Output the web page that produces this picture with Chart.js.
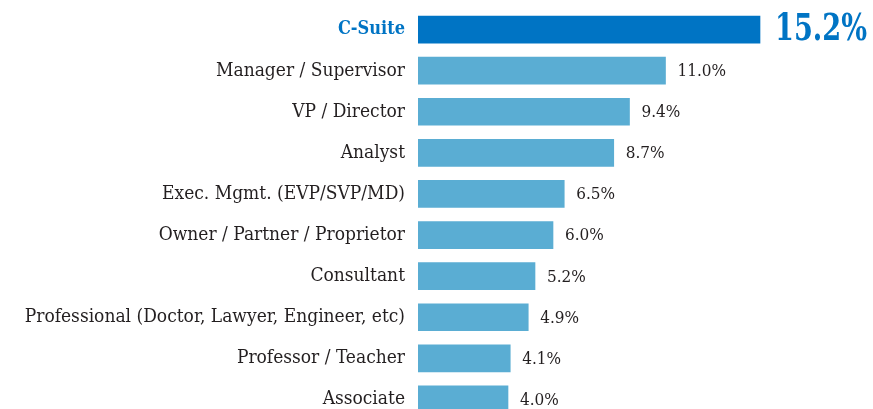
<!DOCTYPE html>
<html>
<head>
<meta charset="utf-8">
<script src="https://cdn.jsdelivr.net/npm/chart.js@4"></script>
<style>
  html, body { margin: 0; padding: 0; background: #fff; overflow: hidden; }
  #wrap { width: 873px; height: 409px; overflow: hidden; }
</style>
</head>
<body>
<div id="wrap"><canvas id="rolesChart" width="873" height="420"></canvas></div>
<script>
// Rollen / Titel und Anteile
const categories = [
  'C-Suite', 'Manager / Supervisor', 'VP / Director', 'Analyst',
  'Exec. Mgmt. (EVP/SVP/MD)', 'Owner / Partner / Proprietor', 'Consultant',
  'Professional (Doctor, Lawyer, Engineer, etc)', 'Professor / Teacher', 'Associate'
];
const shares = [15.2, 11.0, 9.4, 8.7, 6.5, 6.0, 5.2, 4.9, 4.1, 4.0];

const HIGHLIGHT = '#0074c4';
const NORMAL = '#5aadd3';
const TEXT = '#231f20';
const FONT = '"DejaVu Serif Condensed", "DejaVu Serif", serif';

// Werte rechts neben den Balken schreiben
const valueLabels = {
  id: 'valueLabels',
  afterDatasetsDraw(chart) {
    const ctx = chart.ctx;
    const meta = chart.getDatasetMeta(0);
    ctx.save();
    ctx.textBaseline = 'middle';
    ctx.textAlign = 'left';
    meta.data.forEach((bar, i) => {
      const txt = shares[i].toFixed(1) + '%';
      if (i === 0) {
        ctx.font = 'bold 37px ' + FONT;
        ctx.fillStyle = HIGHLIGHT;
        const w = ctx.measureText(txt).width;
        const sx = Math.min(1, 92 / w);
        ctx.save();
        ctx.translate(bar.x + 15, bar.y + 1);
        ctx.scale(sx, 1);
        ctx.fillText(txt, 0, 0);
        ctx.restore();
      } else {
        ctx.font = '17px ' + FONT;
        ctx.fillStyle = TEXT;
        ctx.fillText(txt, bar.x + 12, bar.y + 1);
      }
    });
    ctx.restore();
  }
};

new Chart(document.getElementById('rolesChart').getContext('2d'), {
  type: 'bar',
  data: {
    labels: categories,
    datasets: [{
      data: shares,
      backgroundColor: shares.map((v, i) => i === 0 ? HIGHLIGHT : NORMAL),
      borderWidth: 0,
      barThickness: 27
    }]
  },
  options: {
    indexAxis: 'y',
    responsive: false,
    animation: false,
    layout: { padding: { top: 9, right: 5, left: 0, bottom: 0 } },
    plugins: {
      legend: { display: false },
      tooltip: { enabled: false }
    },
    scales: {
      x: {
        min: 0,
        max: 20,
        display: false
      },
      y: {
        afterFit(scale) {
          scale.width = 418;
          scale.paddingTop = 0;
          scale.paddingBottom = 0;
        },
        grid: { display: false },
        border: { display: false },
        ticks: {
          padding: 5,
          color: ctx => ctx.index === 0 ? HIGHLIGHT : TEXT,
          font: ctx => ctx.index === 0
            ? { family: FONT, size: 18, weight: 'bold' }
            : { family: FONT, size: 19 }
        }
      }
    }
  },
  plugins: [valueLabels]
});
</script>
</body>
</html>
